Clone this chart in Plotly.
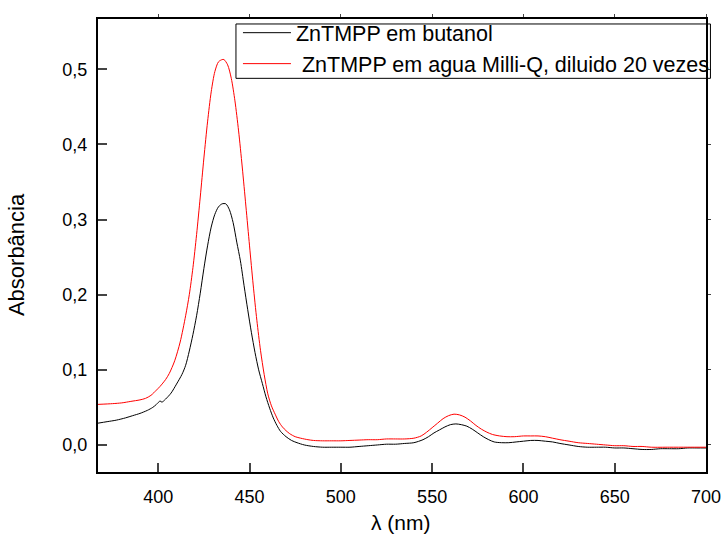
import plotly.graph_objects as go

# ---- data ----
wl_butanol = [367, 372, 377, 382, 386, 390, 394, 397, 399, 401, 402, 404, 407, 410, 413, 415, 417, 419, 421, 423,
              425, 427, 429, 431, 433, 435, 437, 439, 441, 443, 445, 447, 449, 451, 453, 455, 457, 459, 461, 463,
              465, 467, 470, 473, 476, 480, 485, 490, 495, 500, 505, 510, 515, 520, 525, 530, 535, 540, 545, 548,
              551, 554, 557, 560, 563, 566, 569, 572, 575, 578, 581, 584, 588, 592, 596, 600, 604, 608, 612, 616,
              620, 625, 630, 635, 640, 645, 650, 655, 660, 665, 670, 675, 680, 685, 690, 695, 700]
abs_butanol = [0.029, 0.031, 0.033, 0.036, 0.039, 0.042, 0.046, 0.050, 0.054, 0.0585, 0.057, 0.061, 0.069, 0.081, 0.094, 0.106, 0.125, 0.147, 0.172, 0.202,
               0.235, 0.265, 0.290, 0.307, 0.317, 0.321, 0.321, 0.313, 0.296, 0.270, 0.245, 0.212, 0.180, 0.150, 0.123, 0.100, 0.082, 0.064, 0.049, 0.036,
               0.026, 0.018, 0.011, 0.006, 0.003, 0.000, -0.002, -0.003, -0.003, -0.003, -0.003, -0.002, -0.001, 0.000, 0.001, 0.001, 0.002, 0.003, 0.007, 0.011,
               0.016, 0.020, 0.024, 0.027, 0.028, 0.027, 0.025, 0.021, 0.016, 0.011, 0.007, 0.004, 0.003, 0.003, 0.004, 0.005, 0.006, 0.006, 0.005, 0.004,
               0.002, 0.000, -0.002, -0.003, -0.003, -0.003, -0.004, -0.004, -0.005, -0.006, -0.006, -0.005, -0.005, -0.005, -0.004, -0.004, -0.004]

wl_agua = [367, 375, 380, 385, 390, 393, 396, 399, 401, 404, 406, 409, 412, 415, 417, 419, 421, 423, 425, 427,
           429, 431, 433, 435, 436, 438, 440, 442, 444, 446, 448, 450, 452, 454, 456, 458, 460, 462, 464, 466,
           468, 470, 472, 475, 478, 482, 485, 490, 495, 500, 505, 510, 515, 520, 525, 530, 535, 540, 544, 547,
           550, 553, 556, 559, 562, 565, 568, 571, 574, 577, 580, 583, 587, 591, 595, 600, 604, 608, 612, 616,
           620, 625, 630, 635, 640, 645, 650, 655, 660, 665, 670, 680, 690, 700]
abs_agua = [0.054, 0.055, 0.056, 0.058, 0.060, 0.062, 0.066, 0.073, 0.078, 0.087, 0.095, 0.112, 0.137, 0.172, 0.200, 0.236, 0.280, 0.330, 0.382, 0.430,
            0.470, 0.497, 0.510, 0.513, 0.513, 0.506, 0.488, 0.458, 0.418, 0.370, 0.318, 0.265, 0.213, 0.166, 0.126, 0.094, 0.068, 0.052, 0.041, 0.031,
            0.024, 0.019, 0.015, 0.011, 0.009, 0.007, 0.006, 0.0055, 0.0055, 0.0055, 0.006, 0.0065, 0.007, 0.007, 0.008, 0.008, 0.008, 0.009, 0.012, 0.017,
            0.023, 0.029, 0.035, 0.039, 0.041, 0.040, 0.037, 0.032, 0.026, 0.021, 0.017, 0.014, 0.012, 0.011, 0.011, 0.012, 0.012, 0.012, 0.011, 0.009,
            0.007, 0.005, 0.003, 0.002, 0.001, 0.000, -0.001, -0.001, -0.002, -0.002, -0.003, -0.003, -0.003, -0.003]

x_ticks = [400, 450, 500, 550, 600, 650, 700]
y_ticks = [0.0, 0.1, 0.2, 0.3, 0.4, 0.5]
y_tick_labels = ["0,0", "0,1", "0,2", "0,3", "0,4", "0,5"]

name_butanol = "ZnTMPP em butanol"
name_agua = " ZnTMPP em agua Milli-Q, diluido 20 vezes"
x_title = "λ (nm)"
y_title = "Absorbância"

FONT = "Arial, 'Liberation Sans', sans-serif"

fig = go.Figure()
fig.add_trace(go.Scatter(x=wl_butanol, y=abs_butanol, mode="lines", name=name_butanol,
                         line=dict(color="#000000", width=1, shape="spline", smoothing=0.8)))
fig.add_trace(go.Scatter(x=wl_agua, y=abs_agua, mode="lines", name=name_agua,
                         line=dict(color="#ff0000", width=1, shape="spline", smoothing=0.8)))
# invisible trace to activate the top/right axes (small outward mirror ticks)
fig.add_trace(go.Scatter(x=[None], y=[None], xaxis="x2", yaxis="y2", showlegend=False,
                         hoverinfo="skip"))

fig.update_layout(
    width=727, height=537,
    margin=dict(l=98, r=17, t=14, b=65),
    paper_bgcolor="white", plot_bgcolor="white",
    font=dict(family=FONT, color="black", size=18),
    xaxis=dict(range=[367, 700], tickvals=x_ticks, ticks="inside", ticklen=9, tickwidth=2,
               showline=True, linewidth=2, linecolor="black", showgrid=False, zeroline=False,
               tickfont=dict(size=18), ticklabelstandoff=7, automargin=False),
    yaxis=dict(range=[-0.036, 0.567], tickvals=y_ticks, ticktext=y_tick_labels, ticks="inside",
               ticklen=9, tickwidth=2, showline=True, linewidth=2, linecolor="black",
               showgrid=False, zeroline=False, tickfont=dict(size=18), ticklabelstandoff=5,
               automargin=False),
    xaxis2=dict(overlaying="x", side="top", matches="x", tickvals=x_ticks, ticks="outside",
                ticklen=3, tickwidth=1, showticklabels=False, showline=True, linewidth=2,
                linecolor="black", showgrid=False, zeroline=False, automargin=False),
    yaxis2=dict(overlaying="y", side="right", matches="y", tickvals=y_ticks, ticks="outside",
                ticklen=3, tickwidth=1, showticklabels=False, showline=True, linewidth=2,
                linecolor="black", showgrid=False, zeroline=False, automargin=False),
    legend=dict(x=0.2302, y=1.015, xanchor="left", yanchor="top",
                bgcolor="rgba(0,0,0,0)", borderwidth=0,
                font=dict(size=21.5, family=FONT), tracegroupgap=0, itemwidth=48),
    showlegend=True,
    shapes=[
        # legend frame (tighter than plotly's own legend padding)
        dict(type="rect", xref="paper", yref="paper", x0=0.2269, x1=1.0073, y0=0.8690, y1=0.989,
             line=dict(color="black", width=1), fillcolor="rgba(0,0,0,0)", layer="above"),
    ],
    annotations=[
        dict(text=x_title, xref="paper", yref="paper", x=0.498, y=-0.111,
             xanchor="center", yanchor="middle", showarrow=False, font=dict(size=21)),
        dict(text=y_title, xref="paper", yref="paper", x=-0.134, y=0.48, textangle=-90,
             xanchor="center", yanchor="middle", showarrow=False, font=dict(size=22)),
    ],
)

fig.write_html("out.html", config={"displayModeBar": False},
               post_script="document.body.style.margin='0';document.body.style.padding='0';")
